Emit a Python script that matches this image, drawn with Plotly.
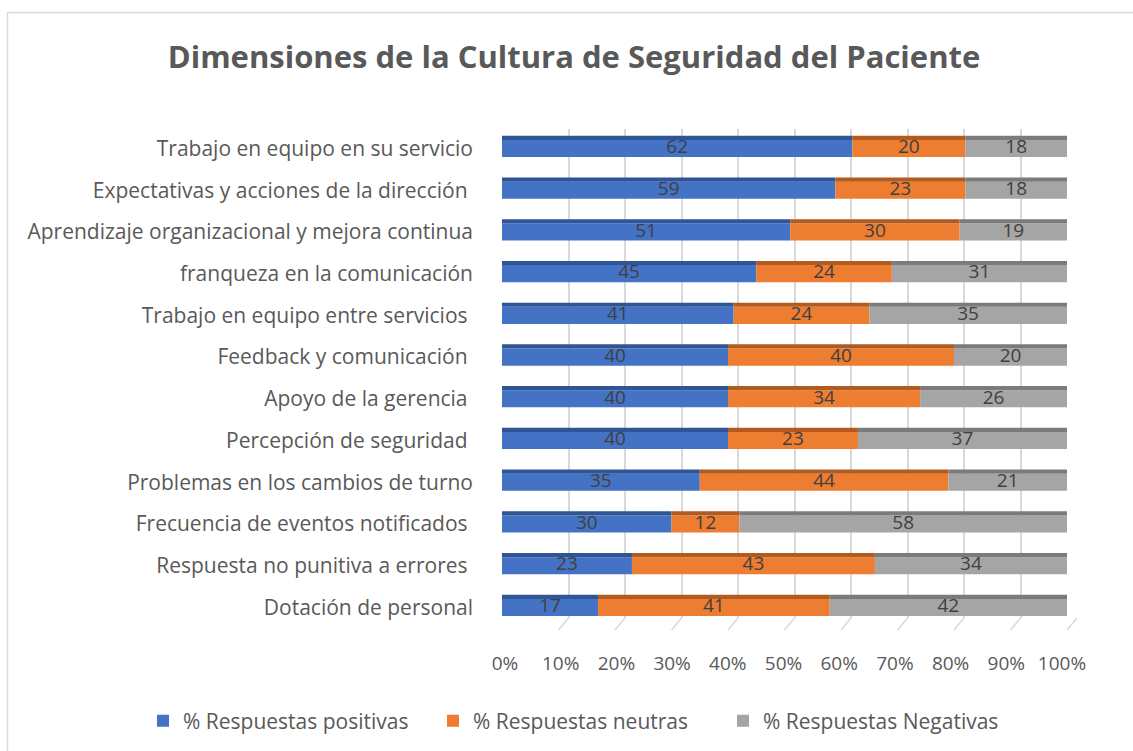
import plotly.graph_objects as go

categories = [
    "Trabajo en equipo en su servicio",
    "Expectativas y acciones de la dirección ",
    "Aprendizaje organizacional y mejora continua",
    "franqueza en la comunicación",
    "Trabajo en equipo entre servicios ",
    "Feedback y comunicación ",
    "Apoyo de la gerencia ",
    "Percepción de seguridad ",
    "Problemas en los cambios de turno",
    "Frecuencia de eventos notificados ",
    "Respuesta no punitiva a errores ",
    "Dotación de personal",
]
positivas = [62, 59, 51, 45, 41, 40, 40, 40, 35, 30, 23, 17]
neutras = [20, 23, 30, 24, 24, 40, 34, 23, 44, 12, 43, 41]
negativas = [18, 18, 19, 31, 35, 20, 26, 37, 21, 58, 34, 42]
series_names = ["% Respuestas positivas", "% Respuestas neutras", "% Respuestas Negativas"]
series_colors = ["#4472C4", "#ED7D31", "#A5A5A5"]
top_colors = ["#2F5597", "#B35B1E", "#7B7B7B"]
x_ticks = [0, 10, 20, 30, 40, 50, 60, 70, 80, 90, 100]
x_tick_labels = [f"{t}%" for t in x_ticks]

W, H = 1133, 751
FONT = "Open Sans, sans-serif"
TXT = "#595959"
GRID = "#D9D9D9"

fig = go.Figure()
series = [positivas, neutras, negativas]
bases = []
b = [0] * len(categories)
for vals in series:
    bases.append(list(b))
    b = [x + v for x, v in zip(b, vals)]

# invisible traces holding the back-wall axes (gridlines) and the tick-label axis
fig.add_trace(go.Scatter(x=[0, 100], y=[0, 1], mode="markers", marker=dict(opacity=0),
                         showlegend=False, hoverinfo="skip", xaxis="x", yaxis="y"))
fig.add_trace(go.Scatter(x=[0, 100], y=[0, 1], mode="markers", marker=dict(opacity=0),
                         showlegend=False, hoverinfo="skip", xaxis="x3", yaxis="y"))

for name, vals, base, col, tcol in zip(series_names, series, bases, series_colors, top_colors):
    fig.add_trace(go.Bar(
        y=categories, x=vals, base=base, name=name, orientation="h",
        marker=dict(color=col, line=dict(width=0)),
        width=0.41, offset=-0.205, hoverinfo="skip", xaxis="x2", yaxis="y2",
    ))
    fig.add_trace(go.Bar(
        y=categories, x=vals, base=base, orientation="h", showlegend=False,
        marker=dict(color=tcol, line=dict(width=0)),
        width=0.1, offset=-0.305, hoverinfo="skip", xaxis="x2", yaxis="y2",
    ))
for vals, base in zip(series, bases):
    mids = [x + v / 2 for x, v in zip(base, vals)]
    fig.add_trace(go.Scatter(
        y=categories, x=mids, mode="text", text=[str(v) for v in vals],
        textposition="middle center", showlegend=False, hoverinfo="skip",
        textfont=dict(size=19, color="#404040", family=FONT), cliponaxis=False,
        xaxis="x2", yaxis="y2",
    ))

# floor lines of the 3D back wall
floor_shift = 10 / ((1077 - 512) / 100)
shapes = [dict(type="line", xref="x", yref="paper", x0=t, x1=t - floor_shift,
               y0=(H - 618) / H, y1=(H - 630) / H, line=dict(color=GRID, width=1.5),
               layer="below") for t in x_ticks]
shapes.append(dict(type="rect", xref="paper", yref="paper",
                   x0=7.5 / W, x1=1.02, y0=-0.02, y1=1 - 12.5 / H,
                   line=dict(color=GRID, width=1.5), fillcolor="rgba(0,0,0,0)", layer="below"))

fig.update_layout(
    width=W, height=H,
    barmode="overlay",
    paper_bgcolor="white", plot_bgcolor="rgba(0,0,0,0)",
    margin=dict(l=0, r=0, t=0, b=0, autoexpand=False),
    font=dict(family=FONT, color=TXT, size=19),
    title=dict(text="<b>Dimensiones de la Cultura de Seguridad del Paciente</b>",
               x=574 / W, xanchor="center", y=1 - 57 / H, yanchor="middle",
               font=dict(size=31, color=TXT, family=FONT)),
    # back wall (gridlines only)
    xaxis=dict(domain=[512 / W, 1077 / W], range=[0, 100], tickvals=x_ticks,
               showgrid=True, gridcolor=GRID, gridwidth=1.5, showticklabels=False,
               zeroline=False, showline=False, ticks="", anchor="y"),
    yaxis=dict(domain=[(H - 618) / H, (H - 129) / H], range=[0, 1], visible=False,
               anchor="x"),
    # front (bars)
    xaxis2=dict(domain=[502 / W, 1067 / W], range=[0, 100],
                showgrid=False, zeroline=False, showline=False, ticks="",
                showticklabels=False, anchor="y2"),
    yaxis2=dict(domain=[(H - 628.3) / H, (H - 127.6) / H], range=[11.5, -0.5],
                showgrid=False, showline=False, ticks="", ticklen=0, anchor="x2",
                tickfont=dict(size=21, color=TXT), ticklabelstandoff=28),
    # percentage tick labels
    xaxis3=dict(domain=[505 / W, 1062 / W], range=[0, 100],
                tickvals=x_ticks, ticktext=x_tick_labels,
                showgrid=False, zeroline=False, showline=False, ticks="",
                tickfont=dict(size=19, color=TXT), anchor="free", position=(H - 650) / H),
    legend=dict(orientation="h", x=143 / W, xanchor="left", y=1 - 721 / H, yanchor="middle",
                font=dict(size=21, color=TXT), traceorder="normal",
                itemwidth=30, entrywidth=245, entrywidthmode="pixels"),
    shapes=shapes,
)

fig.write_html("out.html", config={"displayModeBar": False},
               post_script="document.body.style.margin='0';")
